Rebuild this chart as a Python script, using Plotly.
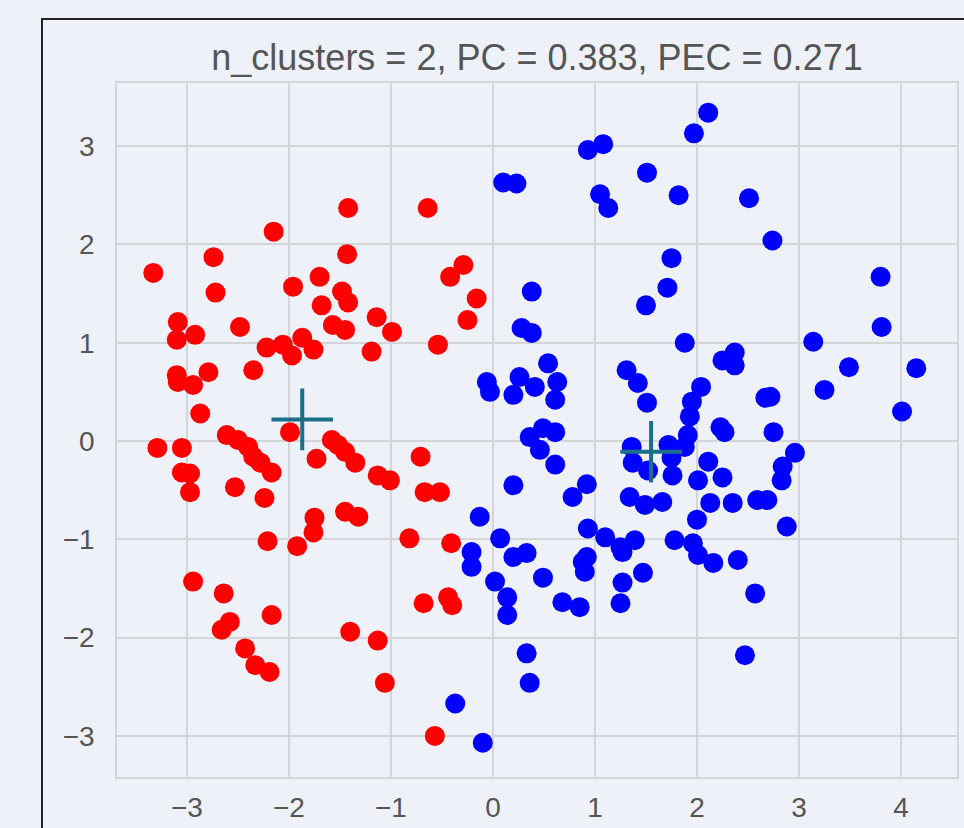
import plotly.graph_objects as go

# ---- data ----
red_x = [-3.33, -2.74, -2.72, -2.15, -1.42, -0.64, -1.43, -1.96, -1.70, -1.68,
         -1.48, -1.42, -1.57, -1.45, -1.14, -0.99, -1.19, -0.54, -0.42, -0.29,
         -0.16, -0.25, -3.09, -3.10, -2.92, -2.48, -2.22, -2.06, -1.97, -1.87,
         -1.76, -2.35, -3.10, -3.09, -2.94, -2.79, -2.87, -3.29, -3.05, -3.05,
         -2.97, -2.97, -2.61, -2.50, -2.40, -2.35, -2.28, -2.17, -2.53, -2.24,
         -1.99, -1.73, -1.58, -1.52, -1.45, -1.35, -1.13, -1.01, -0.71, -0.67,
         -0.52, -1.45, -1.32, -1.75, -1.76, -1.92, -2.21, -0.82, -0.41, -2.94,
         -2.64, -2.17, -2.58, -2.66, -2.43, -2.33, -2.19, -1.40, -1.13, -1.06,
         -0.68, -0.44, -0.40, -0.57]
red_y = [1.71, 1.87, 1.51, 2.13, 2.37, 2.37, 1.90, 1.57, 1.67, 1.38,
         1.52, 1.41, 1.18, 1.13, 1.26, 1.11, 0.91, 0.98, 1.67, 1.79,
         1.45, 1.23, 1.21, 1.03, 1.08, 1.16, 0.95, 0.98, 0.87, 1.05,
         0.93, 0.72, 0.67, 0.60, 0.57, 0.70, 0.28, -0.07, -0.07, -0.32,
         -0.33, -0.52, 0.06, 0.01, -0.06, -0.16, -0.22, -0.32, -0.47, -0.58,
         0.09, -0.18, 0.01, -0.04, -0.11, -0.22, -0.35, -0.40, -0.16, -0.52,
         -0.52, -0.72, -0.77, -0.78, -0.93, -1.07, -1.02, -0.99, -1.04, -1.43,
         -1.55, -1.77, -1.84, -1.92, -2.11, -2.28, -2.35, -1.94, -2.03, -2.46,
         -1.65, -1.59, -1.67, -3.00]

blue_x = [2.11, 1.97, 0.93, 1.08, 0.10, 0.23, 1.51, 1.05, 1.13, 1.82,
          2.51, 2.74, 1.75, 1.71, 1.50, 3.80, 3.81, 0.38, 0.28, 0.38,
          1.88, 3.14, 3.49, 4.15, 3.25, 2.25, 2.37, 2.37, 1.31, 1.42,
          1.51, 2.04, 1.95, 1.93, 2.67, 2.72, 4.01, -0.06, -0.03, 0.26,
          0.20, 0.41, 0.54, 0.63, 0.61, 0.36, 0.49, 0.61, 0.46, 0.61,
          0.20, 0.92, 0.78, 1.36, 1.37, 1.52, 1.75, 1.76, 1.88, 1.72,
          1.91, 2.23, 2.27, 2.75, 2.96, 2.84, 2.83, 2.11, 2.01, 2.25,
          1.34, 1.49, 1.66, 2.13, 2.35, 2.59, 2.69, 2.88, 2.00, 1.78,
          1.96, 2.01, 2.16, 2.40, 2.57, 2.47, 0.93, 1.10, 1.25, 1.39,
          1.27, 0.88, 0.92, 0.90, 1.47, 1.27, 1.25, 0.68, 0.85, 0.49,
          0.07, 0.20, 0.33, 0.02, 0.14, 0.14, 0.33, 0.36, -0.10, -0.13,
          -0.21, -0.21, -0.37]
blue_y = [3.34, 3.13, 2.96, 3.02, 2.63, 2.62, 2.73, 2.51, 2.37, 2.50,
          2.47, 2.04, 1.86, 1.56, 1.38, 1.67, 1.16, 1.52, 1.15, 1.10,
          1.00, 1.01, 0.75, 0.74, 0.52, 0.82, 0.90, 0.77, 0.72, 0.59,
          0.39, 0.55, 0.40, 0.25, 0.44, 0.45, 0.30, 0.60, 0.50, 0.65,
          0.47, 0.55, 0.79, 0.60, 0.42, 0.04, 0.13, 0.09, -0.09, -0.24,
          -0.45, -0.44, -0.57, -0.06, -0.22, -0.30, -0.17, -0.35, -0.06, -0.04,
          0.06, 0.14, 0.09, 0.09, -0.12, -0.26, -0.40, -0.21, -0.40, -0.37,
          -0.57, -0.65, -0.62, -0.63, -0.63, -0.60, -0.60, -0.87, -0.80, -1.01,
          -1.04, -1.16, -1.24, -1.21, -1.55, -2.18, -0.89, -0.98, -1.08, -1.01,
          -1.13, -1.23, -1.18, -1.33, -1.34, -1.44, -1.65, -1.64, -1.69, -1.39,
          -0.99, -1.18, -1.14, -1.43, -1.59, -1.77, -2.16, -2.46, -3.07, -0.77,
          -1.13, -1.28, -2.67]

center_x = [-1.87, 1.55]
center_y = [0.22, -0.11]

x_ticks = [-3, -2, -1, 0, 1, 2, 3, 4]
y_ticks = [-3, -2, -1, 0, 1, 2, 3]

title_text = "n_clusters = 2, PC = 0.383, PEC = 0.271"

# ---- figure ----
BG = "#eef2f8"
GRID = "#d3d5d9"
FONT = "Liberation Sans, Arial, sans-serif"

fig = go.Figure()
fig.add_trace(go.Scatter(x=red_x, y=red_y, mode="markers",
                         marker=dict(color="#ff0000", size=20, line=dict(width=0)),
                         showlegend=False))
fig.add_trace(go.Scatter(x=blue_x, y=blue_y, mode="markers",
                         marker=dict(color="#0000ff", size=20, line=dict(width=0)),
                         showlegend=False))
fig.add_trace(go.Scatter(x=center_x, y=center_y, mode="markers",
                         marker=dict(symbol="cross-thin", size=44,
                                     line=dict(color="#1b6f8a", width=4)),
                         showlegend=False))

fig.update_layout(
    width=964, height=828,
    margin=dict(l=117, r=7, t=83, b=51, pad=0, autoexpand=False),
    paper_bgcolor=BG, plot_bgcolor=BG,
    font=dict(family=FONT, color="#555555"),
    title=dict(text=title_text, x=0.5, xref="paper", xanchor="center",
               y=1 - 57 / 828, yref="container", yanchor="middle",
               font=dict(size=36, color="#555555", family=FONT)),
    xaxis=dict(range=[-3.686, 4.549], tickvals=x_ticks, showgrid=True,
               gridcolor=GRID, gridwidth=1.5, zeroline=False, automargin=False,
               showline=True, linecolor=GRID, linewidth=1.5, mirror=True,
               ticks="outside", ticklen=5, tickcolor="rgba(0,0,0,0)",
               tickfont=dict(size=28, color="#555555", family=FONT)),
    yaxis=dict(range=[-3.418, 3.642], tickvals=y_ticks, showgrid=True,
               gridcolor=GRID, gridwidth=1.5, zeroline=False, automargin=False,
               showline=True, linecolor=GRID, linewidth=1.5, mirror=True,
               ticks="outside", ticklen=15, tickcolor="rgba(0,0,0,0)",
               tickfont=dict(size=28, color="#555555", family=FONT)),
    shapes=[dict(type="rect", xref="paper", yref="paper",
                 x0=(42 - 117) / 840, x1=1.5, y0=-0.5, y1=(777 - 19) / 694,
                 line=dict(color="#222222", width=2), fillcolor="rgba(0,0,0,0)",
                 layer="below")],
)

fig.write_html(
    "out.html",
    config={"displayModeBar": False},
    post_script="document.body.style.margin='0';"
                "document.body.style.background='" + BG + "';"
                "document.body.style.overflow='hidden';",
)
